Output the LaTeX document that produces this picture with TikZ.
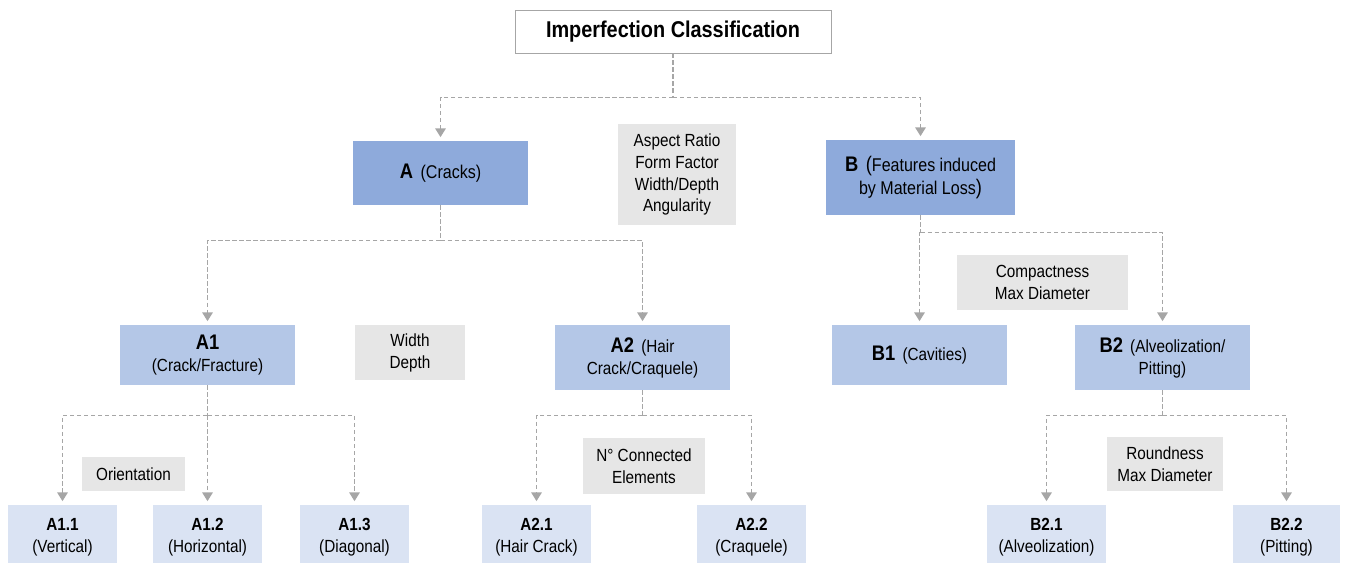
\documentclass[tikz,border=0pt]{standalone}
\usepackage{fontspec}
\setmainfont{Liberation Sans}[FakeStretch=0.87]
\usepackage{tikz}
\usetikzlibrary{arrows.meta,positioning}

\definecolor{classblue}{HTML}{8EAADB}
\definecolor{typeblue}{HTML}{B4C7E7}
\definecolor{leafblue}{HTML}{DAE3F3}
\definecolor{featgray}{HTML}{E6E6E6}
\definecolor{linegray}{HTML}{A6A6A6}

\tikzset{
    box/.style={align=center, inner sep=2pt, font=\fontsize{10}{12.5}\selectfont},
    rootbox/.style={box, draw=linegray, fill=white, minimum width=6.32cm, minimum height=0.86cm},
    classbox/.style={box, fill=classblue, minimum width=3.5cm, font=\fontsize{10.5}{13}\selectfont},
    typebox/.style={box, fill=typeblue, minimum width=3.5cm},
    leafbox/.style={box, fill=leafblue, minimum width=2.18cm, minimum height=1.28cm},
    featbox/.style={box, fill=featgray},
    stem/.style={draw=linegray, line width=0.8pt, dash pattern=on 2.5pt off 1.5pt},
    link/.style={stem, -{Triangle[width=6pt,length=5pt,fill=linegray]}, shorten >=2pt}
}

\begin{document}
\begin{tikzpicture}[x=0.02cm, y=-0.02cm]
        \useasboundingbox (0,0) rectangle (1346,562);

        % top level
        \node[rootbox] (root) at (673,31.5) {\fontsize{13}{15}\selectfont\bfseries Imperfection Classification};

        \node[classbox, minimum height=1.28cm] (A) at (440.5,173) {{\large\bfseries A}\,\ (Cracks)};
        \node[classbox, minimum width=3.78cm, minimum height=1.5cm] (B) at (920.5,177.5) {{\large\bfseries B}\,\ {\large(}Features induced\\by Material Loss{\large)}};
        \node[featbox, minimum width=2.36cm, minimum height=2.02cm] (fA) at (677,174.5) {Aspect Ratio\\Form Factor\\Width/Depth\\Angularity};

        % second level
        \node[typebox, minimum height=1.2cm] (A1) at (207.5,355) {{\large\bfseries A1}\\(Crack/Fracture)};
        \node[typebox, minimum height=1.3cm] (A2) at (642.5,357.5) {{\large\bfseries A2}\,\ (Hair\\Crack/Craquele)};
        \node[typebox, minimum height=1.2cm] (B1) at (919.5,355) {{\large\bfseries B1}\,\ (Cavities)};
        \node[typebox, minimum height=1.3cm] (B2) at (1162.5,357.5) {{\large\bfseries B2}\,\ (Alveolization/\\Pitting)};
        \node[featbox, minimum width=2.2cm, minimum height=1.1cm] (fA1) at (410,352.5) {Width\\Depth};
        \node[featbox, minimum width=3.42cm, minimum height=1.1cm] (fB) at (1042.5,282.5) {Compactness\\Max Diameter};

        % leaves
        \node[leafbox] (A11) at (62.5,537) {\textbf{A1.1}\\(Vertical)};
        \node[leafbox] (A12) at (207.5,537) {\textbf{A1.2}\\(Horizontal)};
        \node[leafbox] (A13) at (354.5,537) {\textbf{A1.3}\\(Diagonal)};
        \node[leafbox] (A21) at (536.5,537) {\textbf{A2.1}\\(Hair Crack)};
        \node[leafbox] (A22) at (751.5,537) {\textbf{A2.2}\\(Craquele)};
        \node[leafbox, minimum width=2.38cm] (B21) at (1046.5,537) {\textbf{B2.1}\\(Alveolization)};
        \node[leafbox, minimum width=2.14cm] (B22) at (1286.5,537) {\textbf{B2.2}\\(Pitting)};
        \node[featbox, minimum width=2.06cm, minimum height=0.68cm] (fA11) at (133.5,474) {Orientation};
        \node[featbox, minimum width=2.44cm, minimum height=1.12cm] (fA2) at (644,466) {N° Connected\\Elements};
        \node[featbox, minimum width=2.32cm, minimum height=1.08cm] (fB2) at (1165,464) {Roundness\\Max Diameter};

        % junctions under each parent
        \path (root.south) ++(0,44) coordinate (rootj);
        \path (A.south) ++(0,35) coordinate (Aj);
        \path (B.south) ++(0,17) coordinate (Bj);
        \path (A1.south) ++(0,30) coordinate (A1j);
        \path (A2.south) ++(0,25) coordinate (A2j);
        \path (B2.south) ++(0,25) coordinate (B2j);

        % connectors
        \draw[stem] (root.south) -- (rootj);
        \draw[link] (rootj) -| (A.north);
        \draw[link] (rootj) -| (B.north);
        \draw[stem] (A.south) -- (Aj);
        \draw[link] (Aj) -| (A1.north);
        \draw[link] (Aj) -| (A2.north);
        \draw[stem] (B.south) -- (Bj);
        \draw[link] (Bj) -| (B1.north);
        \draw[link] (Bj) -| (B2.north);
        \draw[stem] (A1.south) -- (A1j);
        \draw[link] (A1j) -| (A11.north);
        \draw[link] (A1j) -- (A12.north);
        \draw[link] (A1j) -| (A13.north);
        \draw[stem] (A2.south) -- (A2j);
        \draw[link] (A2j) -| (A21.north);
        \draw[link] (A2j) -| (A22.north);
        \draw[stem] (B2.south) -- (B2j);
        \draw[link] (B2j) -| (B21.north);
        \draw[link] (B2j) -| (B22.north);

    \end{tikzpicture}
\end{document}
